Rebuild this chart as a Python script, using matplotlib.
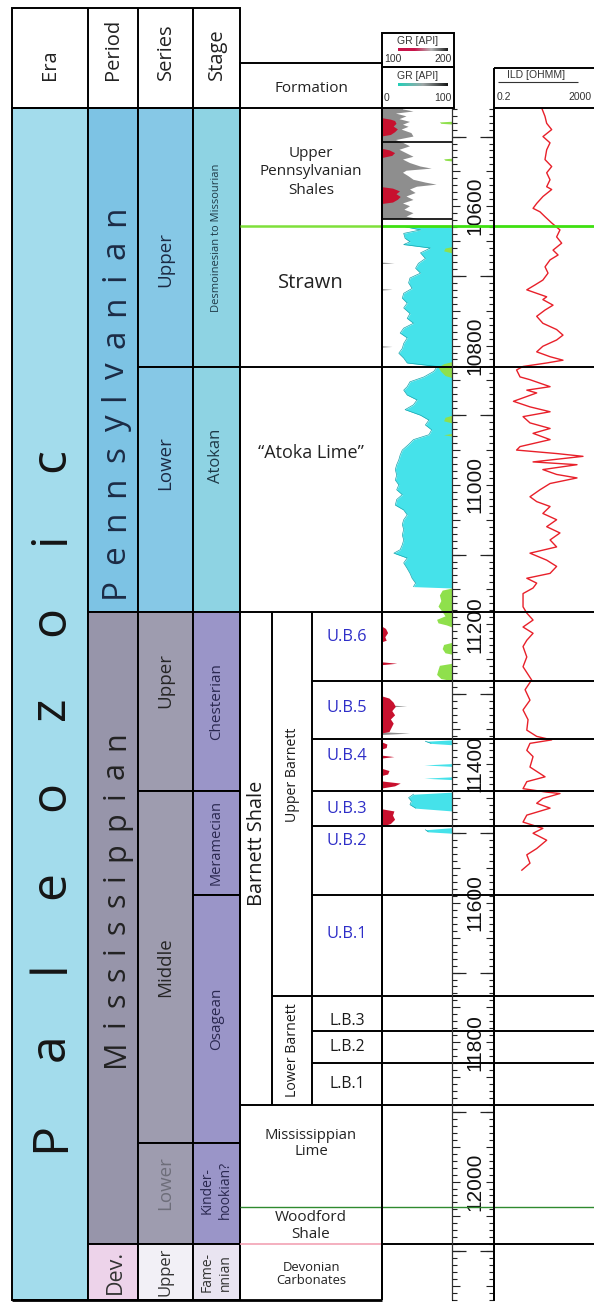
import numpy as np
import matplotlib
matplotlib.use("Agg")
import matplotlib.pyplot as plt
from matplotlib.patches import Rectangle
from matplotlib.ticker import MultipleLocator
from matplotlib.font_manager import FontProperties
from matplotlib.colors import LinearSegmentedColormap

# ---------------- data (depths in ft) ----------------
D_TOP, D_BOT = 10459, 12170

era_names = ["Paleozoic"]
era_tops = [10459]
era_bases = [12170]

period_names = ["Pennsylvanian", "Mississippian", "Dev."]
period_tops = [10459, 11182, 12090]
period_bases = [11182, 12090, 12170]

series_names = ["Upper", "Lower", "Upper", "Middle", "Lower", "Upper"]
series_tops = [10459, 10831, 11182, 11439, 11944, 12090]
series_bases = [10831, 11182, 11439, 11944, 12090, 12170]

stage_names = ["Desmoinesian to Missourian", "Atokan", "Chesterian", "Meramecian",
               "Osagean", "Kinder-\nhookian?", "Fame-\nnnian"]
stage_tops = [10459, 10831, 11182, 11439, 11589, 11944, 12090]
stage_bases = [10831, 11182, 11439, 11589, 11944, 12090, 12170]

formation_names = ["Upper\nPennsylvanian\nShales", "Strawn", "\u201cAtoka Lime\u201d", "Barnett Shale",
                   "Mississippian\nLime", "Woodford\nShale", "Devonian\nCarbonates"]
formation_tops = [10459, 10628, 10831, 11182, 11890, 12037, 12090]
formation_bases = [10628, 10831, 11182, 11890, 12037, 12090, 12170]

member_names = ["Upper Barnett", "Lower Barnett"]
member_tops = [11182, 11734]
member_bases = [11734, 11890]

unit_names = ["U.B.6", "U.B.5", "U.B.4", "U.B.3", "U.B.2", "U.B.1", "L.B.3", "L.B.2", "L.B.1"]
unit_tops = [11182, 11282, 11365, 11439, 11490, 11589, 11734, 11784, 11830]
unit_bases = [11282, 11365, 11439, 11490, 11589, 11734, 11784, 11830, 11890]

gr_breaks = [10508, 10618]

# GR 0-100 scale, shale (gray, filled from left)
gr_shale = [(10459, 30), (10461, 30), (10464, 45), (10467, 20), (10471, 35), (10475, 25), (10479, 40),
            (10483, 30), (10486, 38), (10490, 28), (10495, 42), (10500, 45), (10505, 20), (10509, 30),
            (10514, 40), (10519, 25), (10524, 35), (10529, 45), (10533, 30), (10538, 40), (10543, 55),
            (10546, 71), (10549, 35), (10552, 30), (10557, 38), (10562, 45), (10566, 62), (10569, 78),
            (10572, 50), (10576, 40), (10581, 48), (10586, 35), (10591, 45), (10596, 30), (10600, 40),
            (10605, 32), (10610, 45), (10615, 35), (10618, 50), (10619, np.nan),
            (10681, 0), (10682, 18), (10683, 0), (10719, 0), (10720, 15), (10721, 0),
            (10801, 0), (10802, 15), (10803, 0),
            (11316, 0), (11318, 36), (11320, 0), (11355, 0), (11357, 40), (11359, 0)]

# GR 100-200 scale (red, filled from left)
gr_hot = [(10473, 100), (10475, 112), (10477, 118), (10481, 120), (10485, 116), (10489, 122), (10493, 118),
          (10497, 112), (10499, 100), (10517, 100), (10519, 110), (10523, 118), (10527, 114), (10530, 100),
          (10572, 100), (10574, 115), (10578, 125), (10582, 120), (10586, 126), (10590, 122), (10594, 115),
          (10596, 100), (11203, 100), (11206, 105), (11212, 108), (11218, 104), (11223, 106), (11225, 100),
          (11254, 100), (11256, 121), (11258, 100), (11303, 100), (11306, 110), (11312, 116), (11318, 119),
          (11324, 114), (11330, 118), (11336, 112), (11342, 116), (11348, 113), (11354, 110), (11356, 100),
          (11369, 100), (11372, 107), (11377, 106), (11379, 100), (11388, 100), (11390, 117), (11392, 100),
          (11407, 100), (11410, 110), (11415, 108), (11417, 100), (11425, 100), (11428, 126), (11432, 118),
          (11435, 100), (11465, 100), (11468, 117), (11474, 115), (11480, 118), (11486, 112), (11490, 100)]

# GR 0-100 scale, limestone (cyan, filled from curve to 100)
gr_lime = [(10629, 31), (10634, 55), (10639, 31), (10646, 33), (10651, 40), (10655, 31), (10660, 69),
           (10667, 55), (10675, 62), (10682, 52), (10689, 48), (10696, 55), (10703, 40), (10710, 38),
           (10718, 43), (10725, 31), (10732, 29), (10739, 36), (10746, 31), (10754, 40), (10761, 36),
           (10768, 45), (10775, 31), (10782, 26), (10789, 36), (10797, 31), (10804, 29), (10811, 24),
           (10818, 31), (10825, 36), (10830, 79), (10837, 74), (10845, 60), (10852, 40), (10859, 36),
           (10864, 31), (10871, 36), (10878, 50), (10885, 45), (10892, 33), (10900, 55), (10907, 67),
           (10914, 62), (10921, 71), (10928, 67), (10935, 45), (10942, 38), (10950, 29), (10957, 26),
           (10964, 24), (10971, 21), (10978, 19), (10986, 21), (10993, 19), (11000, 24), (11007, 21),
           (11014, 29), (11021, 21), (11029, 19), (11036, 31), (11043, 36), (11050, 31), (11057, 29),
           (11064, 31), (11072, 29), (11079, 31), (11086, 29), (11093, 26), (11098, 17), (11105, 36),
           (11112, 31), (11120, 36), (11127, 40), (11134, 43), (11141, 48), (11146, 45), (11148, 100),
           (11366, 100), (11368, 62), (11371, 70), (11373, 100), (11400, 100), (11402, 60), (11404, 100),
           (11419, 100), (11421, 60), (11423, 100), (11441, 100), (11444, 45), (11449, 38), (11454, 42),
           (11459, 40), (11464, 48), (11468, 100), (11492, 100), (11495, 62), (11498, 66), (11500, 100)]

# GR high-end green shading (filled from curve to 100)
gr_green = [(10478, 100), (10479, 82), (10481, 84), (10482, 100), (10531, 100), (10532, 88), (10534, 90),
            (10535, 100), (10658, 100), (10660, 90), (10664, 88), (10667, 100), (10823, 100), (10826, 88),
            (10831, 80), (10837, 84), (10843, 90), (10846, 100), (10900, 100), (10903, 90), (10908, 88),
            (10911, 100), (10926, 100), (10928, 88), (10930, 100), (11148, 100), (11151, 86), (11158, 82),
            (11166, 84), (11174, 80), (11182, 86), (11188, 90), (11193, 78), (11198, 80), (11201, 92),
            (11204, 100), (11226, 100), (11229, 88), (11235, 86), (11241, 90), (11243, 100), (11256, 100),
            (11259, 82), (11265, 80), (11272, 78), (11278, 84), (11281, 100)]

# ILD resistivity (ohm.m)
ild = [(10459, 16.2), (10471, 21.9), (10481, 25.6), (10490, 40.6), (10500, 18.2), (10509, 34.8),
       (10519, 25.6), (10533, 21.9), (10543, 40.6), (10552, 25.6), (10562, 34.8), (10572, 25.6),
       (10576, 40.6), (10586, 18.2), (10596, 10.2), (10603, 7.3), (10608, 13.8), (10615, 21.9),
       (10624, 40.6), (10634, 87), (10644, 64), (10653, 102), (10663, 46), (10670, 73), (10677, 35),
       (10687, 22), (10696, 29), (10706, 18), (10713, 8.7), (10720, 4.1), (10725, 10.2), (10730, 25.6),
       (10734, 18), (10742, 46), (10749, 22), (10758, 10.2), (10768, 18), (10777, 64), (10785, 115),
       (10792, 64), (10801, 18), (10809, 10.2), (10816, 35), (10821, 115), (10825, 25.6), (10830, 2.9),
       (10835, 1.6), (10845, 2.2), (10849, 5.5), (10854, 13.8), (10859, 35), (10864, 4.1), (10868, 10.2),
       (10880, 1.2), (10888, 5.5), (10895, 35), (10902, 2.9), (10911, 5.5), (10919, 35), (10926, 7.3),
       (10935, 35), (10945, 2.2), (10950, 1.6), (10955, 64), (10959, 726), (10967, 7.3), (10971, 418),
       (10978, 18), (10985, 64), (10990, 418), (10998, 35), (11007, 13.8), (11017, 5.5), (11024, 10.2),
       (11031, 35), (11041, 18), (11050, 64), (11060, 25.6), (11069, 87), (11079, 35), (11089, 64),
       (11098, 5.5), (11108, 25.6), (11117, 64), (11127, 35), (11134, 4.1), (11141, 10.2), (11148, 7.3),
       (11156, 2.9), (11175, 2.9), (11184, 4.1), (11194, 7.3), (11204, 2.9), (11213, 7.3), (11223, 4.1),
       (11232, 2.9), (11247, 4.1), (11261, 2.9), (11280, 6.4), (11294, 3.5), (11309, 5.5), (11323, 2.9),
       (11337, 4.6), (11352, 4.1), (11361, 10.2), (11366, 40.6), (11371, 5.5), (11381, 4.1), (11390, 7.3),
       (11405, 5.5), (11419, 22), (11426, 4.1), (11436, 2.9), (11441, 25.6), (11443, 87), (11450, 18),
       (11457, 10.2), (11464, 35), (11474, 4.1), (11484, 2.9), (11493, 18), (11500, 7.3), (11510, 25.6),
       (11522, 10.2), (11531, 4.1), (11543, 5.5), (11553, 2.6)]

depth_label_values = [10600, 10800, 11000, 11200, 11400, 11600, 11800, 12000]

# ---------------- layout / style ----------------
W, H = 594, 1302
Y_TOP, Y_BOT = 108, 1300
FONT = ["Open Sans", "DejaVu Sans"]
NUM = ["Liberation Sans", "DejaVu Sans"]
LW = 1.4

X_ERA, X_PER, X_SER, X_STG = (12, 88), (88, 138), (138, 193), (193, 240)
X_FM, X_BS, X_MB, X_UN = (240, 382), (240, 272), (272, 312), (312, 382)
X_GR, X_DEP, X_ILD = (382, 452), (452, 494), (494, 594)

era_colors = ["#A3DCEC"]
period_colors = ["#7DC3E4", "#9795AA", "#EDD3EA"]
series_colors = ["#86C8E6", "#86C8E6", "#9E9CAF", "#9E9CAF", "#9E9CAF", "#F2F0F6"]
stage_colors = ["#8ED3E3", "#8ED3E3", "#9A95C8", "#9A95C8", "#9A95C8", "#9A95C8", "#E9E4F1"]

fig = plt.figure(figsize=(W / 100, H / 100), dpi=100)


def frect(x0, y0, x1, y1):
    return [x0 / W, 1 - y1 / H, (x1 - x0) / W, (y1 - y0) / H]


def split(pairs):
    a = np.array(pairs, dtype=float)
    return a[:, 0], a[:, 1]


# ---------------- tracks ----------------
gr_ax = fig.add_axes(frect(X_GR[0], Y_TOP, X_GR[1], Y_BOT))
gr_ax.set_xlim(0, 100)
gr_ax.set_ylim(D_BOT, D_TOP)
gr_ax.axis("off")
d, v = split(gr_shale)
gr_ax.fill_betweenx(d, 0, v, color="#8E8E8E", lw=0)
d, v = split(gr_lime)
gr_ax.fill_betweenx(d, v, 100, color="#45E2EA", lw=0)
edge = np.where(v >= 100, np.nan, v)
gr_ax.plot(edge, d, color="#17A5AE", lw=0.5)
d, v = split(gr_green)
gr_ax.fill_betweenx(d, v, 100, color="#8FE04C", lw=0)
gr_hi = gr_ax.twiny()
gr_hi.set_xlim(100, 200)
gr_hi.set_ylim(D_BOT, D_TOP)
gr_hi.axis("off")
d, v = split(gr_hot)
gr_hi.fill_betweenx(d, 100, v, color="#C8102E", lw=0)
for b in gr_breaks:
    gr_ax.axhline(b, color="black", lw=1.2)

dep_ax = fig.add_axes(frect(X_DEP[0], Y_TOP, X_DEP[1], Y_BOT))
dep_ax.set_xlim(0, 1)
dep_ax.set_ylim(D_BOT, D_TOP)
dep_ax.patch.set_alpha(0)
for s in ("top", "bottom"):
    dep_ax.spines[s].set_visible(False)
dep_ax.spines["left"].set_linewidth(0.8)
dep_ax.spines["right"].set_linewidth(LW)
dep_ax.set_xticks([])
dep_ax.yaxis.set_major_locator(MultipleLocator(50))
dep_ax.yaxis.set_minor_locator(MultipleLocator(10))
dep_ax.tick_params(axis="y", which="both", direction="in", left=True, right=True,
                   labelleft=False, labelright=False, width=0.8, color="#222222")
dep_ax.tick_params(axis="y", which="major", length=6)
dep_ax.tick_params(axis="y", which="minor", length=3.3)
odd_hundreds = np.arange(10500, 12170, 200)
dep_ax.hlines(odd_hundreds, 0, 0.33, color="#222222", lw=0.9)
dep_ax.hlines(odd_hundreds, 0.67, 1, color="#222222", lw=0.9)
for dv in depth_label_values:
    dep_ax.text(0.55, dv, str(dv), rotation=90, ha="center", va="center",
                fontsize=15, family=NUM, color="#111111")

ild_ax = fig.add_axes(frect(X_ILD[0], Y_TOP, X_ILD[1], Y_BOT))
ild_ax.set_xscale("log")
ild_ax.set_xlim(0.2, 2000)
ild_ax.set_ylim(D_BOT, D_TOP)
ild_ax.axis("off")
d, v = split(ild)
ild_ax.plot(v, d, color="#E8202A", lw=1.0)

# ---------------- column overlay ----------------
ax = fig.add_axes(frect(0, Y_TOP, W, Y_BOT), zorder=10)
ax.set_xlim(0, W)
ax.set_ylim(D_BOT, D_TOP)
ax.axis("off")


def cell(xr, top, base, fc, edge=True):
    ax.add_patch(Rectangle((xr[0], top), xr[1] - xr[0], base - top, facecolor=fc,
                           edgecolor="black" if edge else "none", lw=LW, clip_on=False, zorder=1))


for t, b, c in zip(era_tops, era_bases, era_colors):
    cell(X_ERA, t, b, c)
for t, b, c in zip(period_tops, period_bases, period_colors):
    cell(X_PER, t, b, c)
for t, b, c in zip(series_tops, series_bases, series_colors):
    cell(X_SER, t, b, c)
for t, b, c in zip(stage_tops, stage_bases, stage_colors):
    cell(X_STG, t, b, c)

# formation column frame
ax.vlines([X_FM[0], X_FM[1]], D_TOP, D_BOT, color="black", lw=LW, clip_on=False, zorder=3)
ax.hlines(D_BOT, X_ERA[0], X_FM[1], color="black", lw=2, clip_on=False, zorder=3)
# Barnett sub-columns
bi = formation_names.index("Barnett Shale")
ax.vlines([X_MB[0], X_MB[1]], formation_tops[bi], formation_bases[bi], color="black", lw=LW, zorder=3)
for t in member_tops[1:]:
    ax.hlines(t, X_MB[0], X_MB[1], color="black", lw=LW, zorder=3)
# contacts
for i, t in enumerate(formation_tops[1:], start=1):
    if i == 1:
        ax.hlines(t, X_FM[0], X_FM[1], color="#7FE03A", lw=1.8, zorder=4)
        ax.hlines(t, X_GR[0], W, color="#3FE010", lw=2.0, zorder=4, clip_on=False)
    elif i == 5:
        ax.hlines(t, X_FM[0], W, color="#2F8A2F", lw=1.0, zorder=4, clip_on=False)
    elif i == 6:
        ax.hlines(t, X_FM[0], X_FM[1], color="#F2A2B4", lw=1.2, zorder=4)
        ax.hlines(t, X_GR[0], W, color="black", lw=LW, zorder=4, clip_on=False)
    else:
        ax.hlines(t, X_FM[0], W, color="black", lw=LW, zorder=4, clip_on=False)
for t in unit_tops[1:]:
    ax.hlines(t, X_UN[0], W, color="black", lw=LW, zorder=4, clip_on=False)
# track borders
ax.vlines([X_GR[0], X_DEP[1]], D_TOP, D_BOT, color="black", lw=LW, zorder=4)
ax.vlines([X_GR[1]], D_TOP, D_BOT, color="#333333", lw=0.8, zorder=4)


def label(x, dep, s, dy=0, **kw):
    kw.setdefault("family", FONT)
    kw.setdefault("ha", "center")
    kw.setdefault("va", "center")
    ax.annotate(s, (x, dep), xytext=(0, -dy), textcoords="offset pixels", zorder=6, **kw)


renderer = fig.canvas.get_renderer()


def tracked(x_base, dep, text, size, span, color, dy=0):
    prop = FontProperties(family=FONT, size=size)
    ws = [renderer.get_text_width_height_descent(c, prop, ismath=False)[0] for c in text]
    track = (span - sum(ws)) / (len(text) - 1)
    pos = -span / 2 - dy
    for c, w in zip(text, ws):
        ax.annotate(c, (x_base, dep), xytext=(0, pos), textcoords="offset pixels", rotation=90,
                    rotation_mode="anchor", ha="left", va="baseline", fontproperties=prop,
                    color=color, zorder=6)
        pos += w + track


mid = lambda t, b: (t + b) / 2

# Era
tracked(64, mid(era_tops[0], era_bases[0]), era_names[0], 36, 704, "#151515", dy=96)
# Periods
tracked(124, mid(period_tops[0], period_bases[0]), period_names[0], 24, 392, "#1C2B45", dy=42)
tracked(124, mid(period_tops[1], period_bases[1]), period_names[1], 22, 336, "#222222", dy=-29)
label(115, mid(period_tops[2], period_bases[2]), period_names[2], 0, rotation=90, fontsize=15.5,
      color="#333333")

# Series
series_dy = [22, -26, -21, 0, -10, 0]
series_fs = [13.5, 13.5, 13.5, 13.5, 13.5, 12]
series_tc = ["#1C2B45", "#1C2B45", "#262626", "#262626", "#6E6E7A", "#333333"]
for n, t, b, dy, fs, c in zip(series_names, series_tops, series_bases, series_dy, series_fs, series_tc):
    label(165.5, mid(t, b), n, dy, rotation=90, fontsize=fs, color=c)

# Stages
stage_dy = [0, -34, 0, 0, 0, -3, 0]
stage_fs = [8.0, 12, 11, 10.5, 11, 10, 10]
stage_tc = ["#1F3A48", "#1F3A48", "#2A2850", "#2A2850", "#2A2850", "#2A2850", "#333333"]
for n, t, b, dy, fs, c in zip(stage_names, stage_tops, stage_bases, stage_dy, stage_fs, stage_tc):
    label(216.5, mid(t, b), n, dy, rotation=90, fontsize=fs, color=c, linespacing=1.25,
          multialignment="center")

# Formations
fm_dy = [5, -13, -36, -15, -13, 0, 2]
fm_fs = [11, 14.5, 13, 14.3, 10.7, 11, 9.4]
fm_ls = [1.3, 1.2, 1.2, 1.2, 1.1, 1.2, 1.05]
for i, (n, t, b, dy, fs, ls) in enumerate(zip(formation_names, formation_tops, formation_bases,
                                                fm_dy, fm_fs, fm_ls)):
    if n == "Barnett Shale":
        label(mid(*X_BS) + 1, mid(t, b), n, dy, rotation=90, fontsize=fs, color="#1a1a1a")
    else:
        label(mid(*X_FM), mid(t, b), n, dy, fontsize=fs, color="#222222", linespacing=ls,
              multialignment="center")

mb_dy = [-29, 0]
for n, t, b, dy in zip(member_names, member_tops, member_bases, mb_dy):
    label(mid(*X_MB), mid(t, b), n, dy, rotation=90, fontsize=10.2, color="#1a1a1a")

un_dy = [-10, -2, -9, 0, -20, -12, 7, 0, 0]
for n, t, b, dy in zip(unit_names, unit_tops, unit_bases, un_dy):
    col = "#2E2EC8" if n.startswith("U") else "#1a1a1a"
    label(mid(*X_UN), mid(t, b), n, dy, fontsize=11.8 if n.startswith("U") else 11.3, color=col)

# ---------------- header ----------------
hax = fig.add_axes(frect(0, 0, W, Y_TOP), zorder=10)
hax.set_xlim(0, W)
hax.set_ylim(Y_TOP, 0)
hax.axis("off")


def box(x0, y0, x1, y1, **kw):
    hax.add_patch(Rectangle((x0, y0), x1 - x0, y1 - y0, fill=False, edgecolor="black",
                            lw=LW, clip_on=False, **kw))


box(X_ERA[0], 8, X_STG[1], Y_TOP)
hax.vlines([X_PER[0], X_SER[0], X_STG[0]], 8, Y_TOP, color="black", lw=LW)
for x, s in [(mid(*X_ERA), "Era"), (mid(*X_PER), "Period"), (mid(*X_SER), "Series"),
             (mid(*X_STG), "Stage")]:
    hax.text(x, 80, s, rotation=90, ha="center", va="bottom", fontsize=14.5, family=FONT,
             color="#222222")
box(X_FM[0], 63, X_FM[1], Y_TOP)
hax.text(mid(*X_FM), 89, "Formation", ha="center", va="center", fontsize=11, family=FONT,
         color="#222222")

box(X_GR[0], 33, 454, 67)
box(X_GR[0], 67, 454, Y_TOP)
cm_hot = LinearSegmentedColormap.from_list("hot", ["#C8144A", "#C8144A", "#B8B8B8", "#1A1A1A"])
cm_lime = LinearSegmentedColormap.from_list("lime", ["#22CFB8", "#9FA8A8", "#141414"])
grad = np.linspace(0, 1, 256)[None, :]
hax.imshow(grad, extent=[398, 448, 51, 48], cmap=cm_hot, aspect="auto", zorder=2)
hax.imshow(grad, extent=[398, 448, 86, 83], cmap=cm_lime, aspect="auto", zorder=2)
hax.set_xlim(0, W)
hax.set_ylim(Y_TOP, 0)
for y, lo, hi in [(41, "100", "200"), (76, "0", "100")]:
    hax.text(mid(X_GR[0], 454), y, "GR [API]", ha="center", va="center", fontsize=7.5,
             family=NUM, color="#333333")
    hax.text(X_GR[0] + 2, y + 18 if lo == "100" else y + 22, lo, ha="left", va="center",
             fontsize=7.5, family=NUM, color="#333333")
    hax.text(452, y + 18 if lo == "100" else y + 22, hi, ha="right", va="center", fontsize=7.5,
             family=NUM, color="#333333")

hax.hlines(68, X_ILD[0], W + 2, color="black", lw=LW, clip_on=False)
hax.hlines(Y_TOP, X_ILD[0], W + 2, color="black", lw=LW, clip_on=False)
hax.vlines(X_ILD[0], 68, Y_TOP, color="black", lw=LW)
hax.text(536, 75, "ILD [OHMM]", ha="center", va="center", fontsize=7.5, family=NUM,
         color="#333333")
hax.hlines(82, 498, 578, color="#333333", lw=0.8)
hax.text(497, 97, "0.2", ha="left", va="center", fontsize=7.5, family=NUM, color="#333333")
hax.text(592, 97, "2000", ha="right", va="center", fontsize=7.5, family=NUM, color="#333333")

fig.savefig("out.png", dpi=100)
